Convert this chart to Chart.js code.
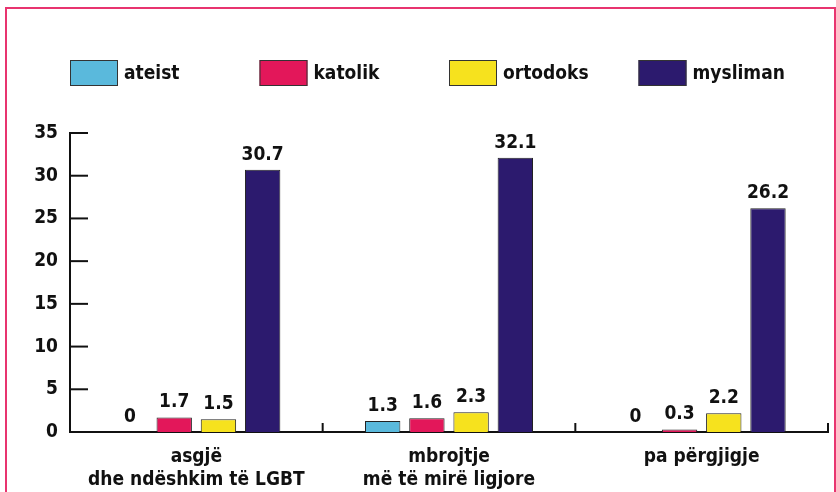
<!DOCTYPE html>
<html>
<head>
<meta charset="utf-8">
<script src="https://cdn.jsdelivr.net/npm/chart.js@4"></script>
<style>
  html, body { margin: 0; padding: 0; background: #fff; }
  #wrap { position: relative; width: 836px; height: 492px; overflow: hidden; }
  #frame { position: absolute; left: 5px; top: 7px; width: 827px; height: 520px; border: 2px solid #e8346f; }
  canvas { position: absolute; left: 0; top: 0; }
</style>
</head>
<body>
<div id="wrap">
  <div id="frame"></div>
  <canvas id="chart" width="836" height="492"></canvas>
</div>
<script>
const FONT = "'Liberation Sans Narrow', 'DejaVu Sans Condensed', sans-serif";

const categories = [
  ['asgjë', 'dhe ndëshkim të LGBT'],
  ['mbrojtje', 'më të mirë ligjore'],
  ['pa përgjigje'],
];
const seriesNames = ['ateist', 'katolik', 'ortodoks', 'mysliman'];
const ateist = [0, 1.3, 0];
const katolik = [1.7, 1.6, 0.3];
const ortodoks = [1.5, 2.3, 2.2];
const mysliman = [30.7, 32.1, 26.2];
const colors = ['#5ab9dc', '#e3175a', '#f6e21e', '#2c1a6e'];
const yTicks = [0, 5, 10, 15, 20, 25, 30, 35];

const seriesValues = [ateist, katolik, ortodoks, mysliman];

// legend spread evenly across the plot width, value labels above bars, inward ticks
const extras = {
  id: 'extras',
  afterDraw(chart) {
    const ctx = chart.ctx;
    const area = chart.chartArea;
    const y = chart.scales.y;
    ctx.save();

    // inward tick marks
    ctx.strokeStyle = '#111';
    ctx.lineWidth = 2;
    y.ticks.forEach(t => {
      const py = y.getPixelForValue(t.value);
      ctx.beginPath();
      ctx.moveTo(area.left, py);
      ctx.lineTo(area.left + 18, py);
      ctx.stroke();
    });
    const step = area.width / categories.length;
    for (let i = 1; i <= categories.length; i++) {
      const px = area.left + step * i;
      ctx.beginPath();
      ctx.moveTo(px, area.bottom);
      ctx.lineTo(px, area.bottom - 9);
      ctx.stroke();
    }

    // value labels
    ctx.fillStyle = '#111';
    ctx.font = 'bold 19px ' + FONT;
    ctx.textAlign = 'center';
    ctx.textBaseline = 'alphabetic';
    chart.data.datasets.forEach((ds, di) => {
      chart.getDatasetMeta(di).data.forEach((bar, i) => {
        ctx.fillText(String(ds.data[i]), bar.x, bar.y - 10);
      });
    });

    // legend
    const lstep = area.width / seriesNames.length;
    ctx.textAlign = 'left';
    ctx.textBaseline = 'middle';
    seriesNames.forEach((name, i) => {
      const lx = area.left + i * lstep;
      ctx.fillStyle = colors[i];
      ctx.fillRect(lx, 60, 48, 26);
      ctx.strokeStyle = '#333';
      ctx.lineWidth = 1;
      ctx.strokeRect(lx + 0.5, 60.5, 47, 25);
      ctx.fillStyle = '#111';
      ctx.fillText(name, lx + 54, 74);
    });
    ctx.restore();
  }
};

new Chart(document.getElementById('chart'), {
  type: 'bar',
  data: {
    labels: categories,
    datasets: seriesNames.map((name, i) => ({
      label: name,
      data: seriesValues[i],
      backgroundColor: colors[i],
      borderColor: '#222',
      borderWidth: 1,
      barPercentage: 0.8,
      categoryPercentage: 0.7,
    })),
  },
  options: {
    responsive: false,
    animation: false,
    layout: { padding: { left: 0, top: 133, right: 8, bottom: 0 } },
    plugins: {
      legend: { display: false },
      tooltip: { enabled: false },
    },
    scales: {
      x: {
        grid: { display: false },
        border: { display: true, color: '#111', width: 2 },
        ticks: { color: '#111', font: { family: FONT, size: 19, weight: 'bold', lineHeight: 1.2 }, padding: 6, maxRotation: 0, autoSkip: false },
        afterFit(scale) { scale.height = 60; },
      },
      y: {
        min: 0,
        max: 35,
        afterBuildTicks(scale) { scale.ticks = yTicks.map(v => ({ value: v })); },
        grid: { display: false },
        border: { display: true, color: '#111', width: 2 },
        ticks: { color: '#111', font: { family: FONT, size: 19, weight: 'bold' }, padding: 4 },
        afterFit(scale) { scale.width = 70; },
      },
    },
  },
  plugins: [extras],
});
</script>
</body>
</html>
